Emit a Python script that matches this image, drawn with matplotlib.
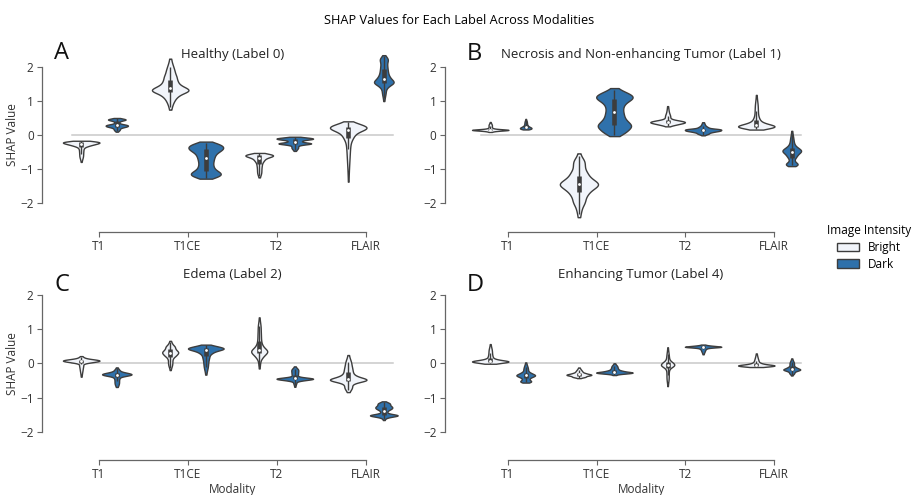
import numpy as np
import matplotlib.pyplot as plt
from matplotlib.patches import Patch

plt.rcParams['font.family'] = ['Open Sans', 'DejaVu Sans']

modalities = ['T1', 'T1CE', 'T2', 'FLAIR']
intensities = ['Bright', 'Dark']
panel_titles = ['Healthy (Label 0)', 'Necrosis and Non-enhancing Tumor (Label 1)',
                'Edema (Label 2)', 'Enhancing Tumor (Label 4)']
panel_letters = ['A', 'B', 'C', 'D']

# SHAP values per modality (T1, T1CE, T2, FLAIR)
healthy_bright = [
    [-0.18, -0.19, -0.195, -0.2, -0.21, -0.215, -0.22, -0.23, -0.24, -0.25, -0.26, -0.27, -0.28, -0.3, -0.32, -0.35, -0.4, -0.47, -0.55, -0.64, -0.73],
    [2.15, 2.0, 1.88, 1.78, 1.7, 1.62, 1.56, 1.5, 1.45, 1.41, 1.38, 1.35, 1.33, 1.31, 1.29, 1.27, 1.24, 1.2, 1.14, 1.06, 0.96, 0.82],
    [-0.54, -0.56, -0.57, -0.58, -0.59, -0.6, -0.61, -0.62, -0.63, -0.65, -0.67, -0.7, -0.73, -0.77, -0.82, -0.88, -0.95, -1.03, -1.12, -1.19],
    [0.37, 0.33, 0.3, 0.28, 0.26, 0.24, 0.23, 0.22, 0.21, 0.2, 0.19, 0.17, 0.15, 0.12, 0.09, 0.05, 0.0, -0.06, -0.14, -0.25, -0.4, -0.6, -0.85, -1.18],
]
healthy_dark = [
    [0.49, 0.47, 0.46, 0.45, 0.44, 0.42, 0.38, 0.34, 0.31, 0.3, 0.29, 0.28, 0.27, 0.26, 0.25, 0.24, 0.22, 0.19, 0.15, 0.12],
    [-0.22, -0.27, -0.3, -0.33, -0.36, -0.39, -0.42, -0.45, -0.49, -0.54, -0.6, -0.66, -0.73, -0.8, -0.88, -0.95, -1.02, -1.07, -1.11, -1.14, -1.17, -1.2, -1.25],
    [-0.06, -0.08, -0.09, -0.1, -0.11, -0.12, -0.13, -0.15, -0.18, -0.21, -0.23, -0.24, -0.25, -0.26, -0.28, -0.32, -0.38, -0.43],
    [2.3, 2.24, 2.18, 2.1, 2.02, 1.95, 1.88, 1.82, 1.76, 1.71, 1.67, 1.63, 1.6, 1.57, 1.55, 1.53, 1.51, 1.49, 1.42, 1.35, 1.22, 1.08],
]
necrosis_bright = [
    [0.1, 0.12, 0.13, 0.14, 0.14, 0.15, 0.15, 0.15, 0.16, 0.16, 0.17, 0.18, 0.2, 0.25, 0.3, 0.35],
    [-0.62, -0.75, -0.88, -1.0, -1.1, -1.18, -1.25, -1.3, -1.35, -1.39, -1.42, -1.45, -1.48, -1.52, -1.56, -1.61, -1.67, -1.75, -1.85, -1.97, -2.1, -2.3],
    [0.27, 0.3, 0.32, 0.34, 0.35, 0.36, 0.37, 0.38, 0.39, 0.4, 0.41, 0.43, 0.45, 0.5, 0.57, 0.65, 0.78],
    [0.18, 0.2, 0.22, 0.23, 0.24, 0.25, 0.26, 0.27, 0.28, 0.3, 0.32, 0.35, 0.4, 0.47, 0.56, 0.7, 0.88, 1.06],
]
necrosis_dark = [
    [0.17, 0.18, 0.19, 0.2, 0.21, 0.22, 0.23, 0.25, 0.27, 0.3, 0.34, 0.39, 0.44],
    [1.33, 1.25, 1.19, 1.15, 1.11, 1.08, 1.04, 0.99, 0.92, 0.84, 0.75, 0.66, 0.58, 0.5, 0.43, 0.37, 0.32, 0.28, 0.24, 0.2, 0.14, 0.07, 0.01],
    [0.01, 0.04, 0.07, 0.09, 0.11, 0.12, 0.13, 0.14, 0.15, 0.16, 0.17, 0.18, 0.2, 0.23, 0.27, 0.34],
    [0.04, -0.1, -0.22, -0.3, -0.36, -0.4, -0.43, -0.45, -0.47, -0.49, -0.52, -0.55, -0.59, -0.64, -0.7, -0.78, -0.84, -0.86, -0.89],
]
edema_bright = [
    [0.19, 0.15, 0.12, 0.11, 0.1, 0.09, 0.08, 0.08, 0.07, 0.06, 0.05, 0.04, 0.02, -0.03, -0.1, -0.2, -0.32],
    [0.62, 0.55, 0.5, 0.46, 0.42, 0.39, 0.36, 0.34, 0.32, 0.3, 0.28, 0.25, 0.22, 0.18, 0.12, 0.04, -0.05, -0.14],
    [1.25, 1.1, 0.95, 0.82, 0.7, 0.6, 0.52, 0.46, 0.42, 0.39, 0.37, 0.35, 0.33, 0.31, 0.28, 0.24, 0.18, 0.1, -0.07],
    [0.17, 0.05, -0.06, -0.15, -0.23, -0.3, -0.36, -0.4, -0.43, -0.45, -0.47, -0.48, -0.49, -0.5, -0.52, -0.56, -0.63, -0.72, -0.79],
]
edema_dark = [
    [-0.15, -0.2, -0.25, -0.27, -0.29, -0.3, -0.31, -0.32, -0.33, -0.34, -0.35, -0.37, -0.4, -0.45, -0.52, -0.6, -0.65],
    [0.53, 0.5, 0.48, 0.46, 0.45, 0.44, 0.43, 0.42, 0.41, 0.39, 0.37, 0.34, 0.3, 0.25, 0.18, 0.1, 0.0, -0.12, -0.25],
    [-0.12, -0.17, -0.22, -0.27, -0.32, -0.37, -0.41, -0.43, -0.44, -0.44, -0.45, -0.45, -0.46, -0.47, -0.48, -0.5, -0.55, -0.64],
    [-1.13, -1.16, -1.19, -1.22, -1.25, -1.27, -1.29, -1.31, -1.33, -1.36, -1.4, -1.45, -1.49, -1.51, -1.52, -1.52, -1.53, -1.54, -1.57, -1.63],
]
enhancing_bright = [
    [0.5, 0.4, 0.3, 0.22, 0.16, 0.12, 0.1, 0.08, 0.07, 0.06, 0.06, 0.05, 0.05, 0.04, 0.03, 0.01, 0.0],
    [-0.15, -0.2, -0.24, -0.27, -0.29, -0.31, -0.32, -0.33, -0.34, -0.35, -0.36, -0.38, -0.4, -0.42],
    [0.4, 0.28, 0.18, 0.1, 0.05, 0.02, 0.0, -0.02, -0.04, -0.05, -0.06, -0.08, -0.11, -0.16, -0.24, -0.35, -0.47, -0.59],
    [0.24, 0.15, 0.08, 0.03, 0.0, -0.02, -0.04, -0.05, -0.05, -0.06, -0.07, -0.07, -0.08, -0.09, -0.1],
]
enhancing_dark = [
    [-0.02, -0.1, -0.17, -0.23, -0.27, -0.3, -0.32, -0.34, -0.35, -0.36, -0.38, -0.4, -0.43, -0.47, -0.51, -0.53, -0.55],
    [-0.03, -0.08, -0.13, -0.17, -0.2, -0.22, -0.24, -0.25, -0.26, -0.27, -0.27, -0.28, -0.29, -0.3, -0.33],
    [0.54, 0.52, 0.51, 0.5, 0.49, 0.49, 0.48, 0.48, 0.47, 0.46, 0.44, 0.41, 0.36, 0.3],
    [0.11, 0.05, 0.0, -0.05, -0.09, -0.12, -0.14, -0.16, -0.17, -0.18, -0.19, -0.2, -0.22, -0.25, -0.29, -0.33],
]

bright_sets = [healthy_bright, necrosis_bright, edema_bright, enhancing_bright]
dark_sets = [healthy_dark, necrosis_dark, edema_dark, enhancing_dark]

# violin widths (scaled by count in the original)
widths_bright = [[0.41, 0.41, 0.31, 0.41], [0.41, 0.43, 0.39, 0.41],
                 [0.41, 0.18, 0.18, 0.41], [0.41, 0.28, 0.15, 0.41]]
widths_dark = [[0.25, 0.39, 0.41, 0.22], [0.13, 0.41, 0.41, 0.21],
               [0.33, 0.40, 0.41, 0.31], [0.21, 0.41, 0.41, 0.19]]

colors = {'Bright': '#f1f4fa', 'Dark': '#2f71ab'}
edge = '#3d3d3d'

rects = [[0.0593, 0.5547, 0.3874, 0.3450], [0.5045, 0.5547, 0.3860, 0.3450],
         [0.0593, 0.0933, 0.3874, 0.3453], [0.5045, 0.0933, 0.3860, 0.3453]]
left_offsets = [9, 13.5, 9, 13.5]


def kde_stats(vals, k=2):
    # adaptive gaussian kde: bandwidth follows the k-th neighbour distance,
    # with a floor tied to the spread so wide violins stay smooth
    vals = np.sort(np.asarray(vals, float))
    dist = np.sort(np.abs(vals[:, None] - vals[None, :]), axis=1)
    floor = max(0.012, 0.2 * vals.std(ddof=1))
    h = np.maximum(dist[:, k] * 0.8, floor)
    coords = np.linspace(vals[0] - 0.4 * h[0], vals[-1] + 0.4 * h[-1], 500)
    dens = (np.exp(-0.5 * ((coords[:, None] - vals[None, :]) / h) ** 2) / h).sum(axis=1)
    return dict(coords=coords, vals=dens, mean=vals.mean(), median=np.median(vals),
                min=vals.min(), max=vals.max())


def draw_box(ax, x, vals):
    vals = np.asarray(vals)
    q1, med, q3 = np.percentile(vals, [25, 50, 75])
    lim = 1.5 * (q3 - q1)
    lo = vals[vals >= q1 - lim].min()
    hi = vals[vals <= q3 + lim].max()
    ax.plot([x, x], [lo, hi], color=edge, lw=1.0, zorder=3, solid_capstyle='butt')
    ax.plot([x, x], [q1, q3], color=edge, lw=3.3, zorder=3, solid_capstyle='butt')
    ax.scatter([x], [med], s=4, color='white', zorder=4, linewidths=0)


fig = plt.figure(figsize=(9.19, 4.95), dpi=100)
fig.suptitle('SHAP Values for Each Label Across Modalities', y=0.972, fontsize=9.2)

pos = np.arange(len(modalities))
for i in range(4):
    ax = fig.add_axes(rects[i])
    for name, sets, widths, off in [('Bright', bright_sets, widths_bright, -0.2),
                                    ('Dark', dark_sets, widths_dark, 0.2)]:
        stats = [kde_stats(v) for v in sets[i]]
        vp = ax.violin(stats, positions=pos + off, widths=widths[i],
                       showextrema=False, showmeans=False, showmedians=False)
        for body in vp['bodies']:
            body.set_facecolor(colors[name])
            body.set_edgecolor(edge)
            body.set_linewidth(1.0)
            body.set_alpha(1)
            body.set_zorder(2)
        for x, vals in zip(pos + off, sets[i]):
            draw_box(ax, x, vals)
    ax.axhline(0, xmin=0.05, xmax=0.95, color='#c9c9c9', lw=1.1, zorder=1)
    ax.set_xlim(-0.5, 3.5)
    ax.set_ylim(-2.5, 2.5)
    ax.set_xticks(pos)
    ax.set_xticklabels(modalities)
    ax.set_yticks([-2, -1, 0, 1, 2])
    ax.set_yticklabels(['\u22122', '\u22121', '0', '1', '2'])
    ax.tick_params(labelsize=8.5, colors='#666666', labelcolor='#333333',
                   length=3.5, width=0.8, pad=2.5)
    for s in ['top', 'right']:
        ax.spines[s].set_visible(False)
    ax.spines['left'].set_position(('outward', left_offsets[i]))
    ax.spines['bottom'].set_position(('outward', 8))
    ax.spines['left'].set_bounds(-2, 2)
    ax.spines['bottom'].set_bounds(0, 3)
    for s in ['left', 'bottom']:
        ax.spines[s].set_color('#666666')
        ax.spines[s].set_linewidth(0.9)
    ty = 0.97 if i < 2 else 1.02
    ax.text(0.5, ty, panel_titles[i], transform=ax.transAxes, ha='center',
            va='center', fontsize=9.5, color='#222222')
    if i % 2 == 0:
        ax.set_ylabel('SHAP Value', fontsize=8.5, color='#333333', labelpad=1)
    if i >= 2:
        ax.set_xlabel('Modality', fontsize=8.5, color='#333333', labelpad=1)

letter_pos = [(0.059, 0.893), (0.508, 0.891), (0.059, 0.424), (0.508, 0.424)]
for (lx, ly), letter in zip(letter_pos, panel_letters):
    fig.text(lx, ly, letter, fontsize=17, ha='left', va='center', color='#111111')

handles = [Patch(facecolor=colors[k], edgecolor=edge, linewidth=1.0) for k in intensities]
fig.legend(handles, intensities, title='Image Intensity', loc='center left',
           bbox_to_anchor=(0.895, 0.5), frameon=False, fontsize=8.5,
           title_fontsize=8.5, handlelength=1.8, handleheight=0.7,
           labelspacing=0.3, borderaxespad=0)

fig.savefig('out.png', dpi=100)
